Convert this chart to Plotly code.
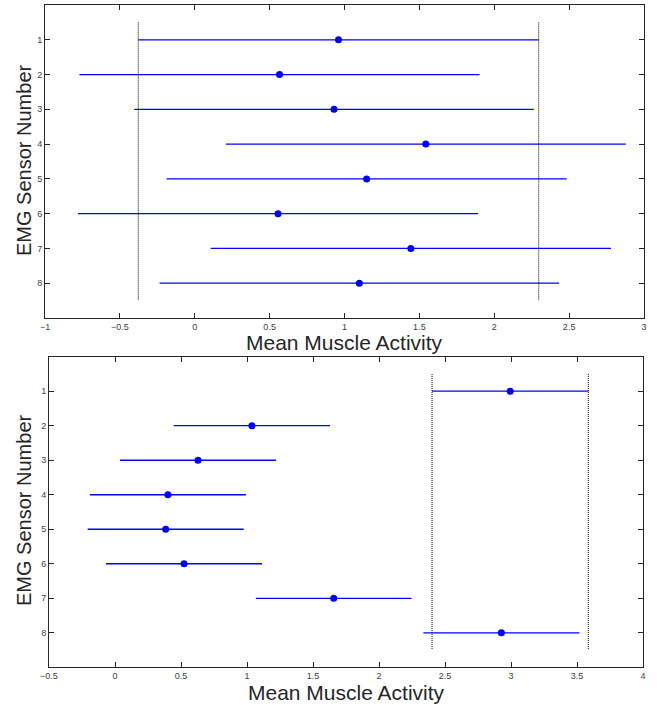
import plotly.graph_objects as go

sensors = [1, 2, 3, 4, 5, 6, 7, 8]
tick_labels = ["1", "2", "3", "4", "5", "6", "7", "8"]

# Top panel: group means and comparison-interval half widths
top_means = [0.96, 0.566, 0.930, 1.543, 1.148, 0.556, 1.443, 1.099]
top_half = [1.337, 1.336, 1.334, 1.335, 1.336, 1.336, 1.336, 1.334]

# Bottom panel
bot_means = [2.994, 1.037, 0.629, 0.401, 0.384, 0.523, 1.657, 2.927]
bot_half = [0.592, 0.592, 0.591, 0.591, 0.591, 0.591, 0.590, 0.591]

x_ticks_top = [-1, -0.5, 0, 0.5, 1, 1.5, 2, 2.5, 3]
x_ticks_bot = [-0.5, 0, 0.5, 1, 1.5, 2, 2.5, 3, 3.5, 4]

x_title = "Mean Muscle Activity"
y_title = "EMG Sensor Number"

BLUE = "#0000ff"
FONT = "Liberation Sans, Arial, Helvetica, sans-serif"

fig = go.Figure()

def add_panel(means, half, xa, ya):
    fig.add_trace(go.Scatter(
        x=means, y=sensors, mode="markers",
        marker=dict(color=BLUE, size=7),
        error_x=dict(type="data", array=half, color=BLUE, thickness=1.3, width=0),
        xaxis=xa, yaxis=ya, showlegend=False, hoverinfo="x+y"))
    lo = means[0] - half[0]
    hi = means[0] + half[0]
    for v in (lo, hi):
        fig.add_trace(go.Scatter(
            x=[v, v], y=[0.5, 8.5], mode="lines",
            line=dict(color="black", width=1, dash="1px,1px"),
            xaxis=xa, yaxis=ya, showlegend=False, hoverinfo="skip"))

add_panel(top_means, top_half, "x", "y")
add_panel(bot_means, bot_half, "x2", "y2")

W, H = 657, 705

def px(x):
    return x / W

def py(y):
    return 1 - y / H

axis_common = dict(
    showline=True, linecolor="#262626", linewidth=1, mirror="ticks",
    ticks="inside", ticklen=5, tickcolor="#262626", tickwidth=1,
    showgrid=False, zeroline=False, automargin=False,
    tickfont=dict(family=FONT, size=9, color="#404040"),
)

x_title_font = dict(family=FONT, size=21, color="#262626")
y_title_font = dict(family=FONT, size=20, color="#262626")

fig.update_layout(
    width=W, height=H,
    margin=dict(l=0, r=0, t=0, b=0),
    paper_bgcolor="white", plot_bgcolor="white",
    xaxis=dict(domain=[px(45), px(644)], range=[-1, 3], tickvals=x_ticks_top,
               anchor="y", **axis_common),
    yaxis=dict(domain=[py(318), py(5)], range=[9, 0], tickvals=sensors, ticktext=tick_labels,
               anchor="x", **axis_common),
    xaxis2=dict(domain=[px(49), px(643)], range=[-0.5, 4], tickvals=x_ticks_bot,
                anchor="y2", **axis_common),
    yaxis2=dict(domain=[py(667.3), py(356.7)], range=[9, 0], tickvals=sensors, ticktext=tick_labels,
                anchor="x2", **axis_common),
    annotations=[
        dict(text=x_title, xref="paper", yref="paper", x=px(344), y=py(343),
             xanchor="center", yanchor="middle", showarrow=False, font=x_title_font),
        dict(text=x_title, xref="paper", yref="paper", x=px(346), y=py(692),
             xanchor="center", yanchor="middle", showarrow=False, font=x_title_font),
        dict(text=y_title, xref="paper", yref="paper", x=px(24), y=py(160), textangle=-90,
             xanchor="center", yanchor="middle", showarrow=False, font=y_title_font),
        dict(text=y_title, xref="paper", yref="paper", x=px(24), y=py(510), textangle=-90,
             xanchor="center", yanchor="middle", showarrow=False, font=y_title_font),
    ],
)

fig.write_html("out.html", config={"displayModeBar": False},
               post_script="document.body.style.margin='0px';document.body.style.overflow='hidden';")
